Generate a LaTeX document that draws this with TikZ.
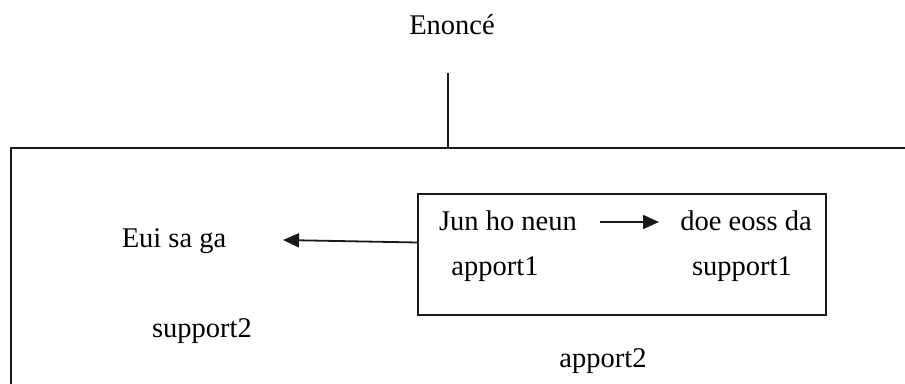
\documentclass[tikz,border=0pt]{standalone}
\usepackage{fontspec}
\setmainfont{Liberation Serif}
\usetikzlibrary{arrows.meta}
\begin{document}
\begin{tikzpicture}[x=1pt,y=-1pt,
  lbl/.style={inner sep=0pt,anchor=base,font=\fontsize{28.5pt}{32pt}\selectfont},
  ln/.style={line width=1.8pt,draw=black!90},
  arr/.style={ln,-{Triangle[length=16pt,width=14pt]}}]
\useasboundingbox (0,0) rectangle (905,383);
\begin{scope}
\clip (0,0) rectangle (905,383);
\draw[ln] (11,395) -- (11,148) -- (920,148);
\end{scope}
\node[lbl] (enonce) at (452,34) {Enoncé};
\coordinate (vtop) at (448,73);
\coordinate (vbot) at (448,148);
\draw[ln] (vtop) -- (vbot);
\node[draw=black!90,line width=1.8pt,minimum width=408pt,minimum height=121pt,inner sep=0pt] (box) at (622,254.5) {};
\node[lbl] (jun) at (508,230) {Jun ho neun};
\node[lbl] (doe) at (746,230) {doe eoss da};
\node[lbl] (ap1) at (495,275) {apport1};
\node[lbl] (sup1) at (742,275) {support1};
\node[lbl] (eui) at (174,247) {Eui sa ga};
\node[lbl] (sup2) at (202,337) {support2};
\node[lbl] (ap2) at (603,367) {apport2};
\coordinate (a1s) at (600,222);
\coordinate (a1e) at (659,222);
\draw[arr] (a1s) -- (a1e);
\coordinate (a2s) at (418,242.5);
\coordinate (a2e) at (283,240);
\draw[arr] (a2s) -- (a2e);
\end{tikzpicture}
\end{document}
